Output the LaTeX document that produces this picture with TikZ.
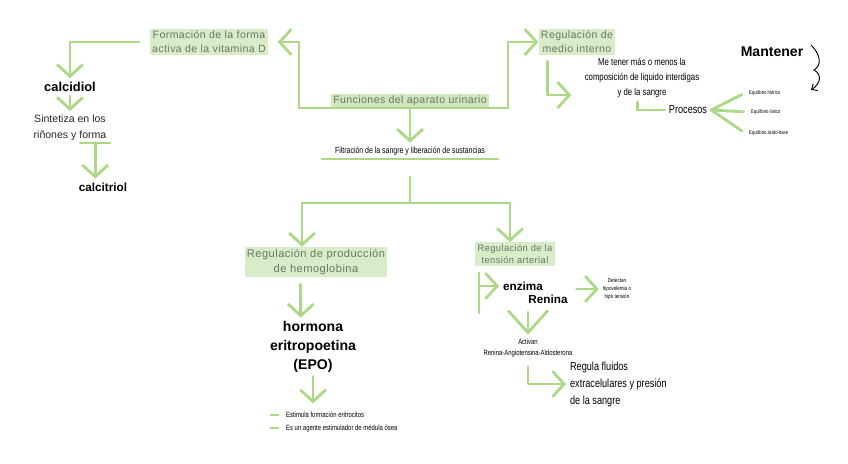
\documentclass[tikz,border=0pt]{standalone}
\usepackage{fontspec}
\setmainfont{Liberation Sans}
\newfontfamily\narrowfont{Liberation Sans}[FakeStretch=0.78]
\newfontfamily\headfont{Liberation Sans}[LetterSpace=4]
\usetikzlibrary{arrows.meta}
\definecolor{leaf}{RGB}{172,216,136}
\definecolor{mark}{RGB}{216,236,200}
\definecolor{pencil}{RGB}{108,116,104}
\begin{document}
\begin{tikzpicture}[x=0.03cm,y=-0.03cm,font=\small,
  line/.style={draw=leaf,line width=2.4pt,line cap=round,line join=round},
  head/.style={fill=mark,text=pencil,align=center,inner sep=2pt,font=\headfont\fontsize{9}{12}\selectfont},
  note/.style={align=center,font=\narrowfont\fontsize{8.5}{13}\selectfont},
  ink/.style={align=center,font=\bfseries\fontsize{12}{16}\selectfont},
  tiny/.style={align=left,font=\narrowfont\fontsize{4.6}{6}\selectfont},
  >={Straight Barb[length=10pt,width=22pt]}]
\useasboundingbox (0,0) rectangle (848,463);
\node[head,fill=mark!80!leaf] (fun) at (410,101) {Funciones del aparato urinario};
\node[note,font=\narrowfont\fontsize{7.6}{9}\selectfont] (fil) at (410,151) {Filtración de la sangre y liberación de sustancias};
\draw[line,line width=1.5pt,shorten <=-8pt,shorten >=-8pt] (fil.south west) -- (fil.south east);
\draw[line,->] (fun.south) -- (fil.north);
\coordinate (barL) at (299,108);
\coordinate (barR) at (508,108);
\draw[line] (barL) -- (barR);
\node[head] (vitD) at (209,42) {Formación de la forma\\activa de la vitamina D};
\node[head] (medio) at (577,42) {Regulación de\\medio interno};
\draw[line,->,shorten >=8pt] (barL) |- (vitD.east);
\draw[line,->] (barR) |- (medio.west);
\node[ink,font=\bfseries\fontsize{11}{13}\selectfont] (calcid) at (70,87) {calcidiol};
\node[align=center,text=black!85,font=\fontsize{9}{13.5}\selectfont] (sint) at (70,128) {Sintetiza en los\\riñones y forma};
\node[ink,font=\bfseries\fontsize{10}{12}\selectfont] (calcit) at (103,187) {calcitriol};
\draw[line,->,shorten <=9pt] (vitD.west) -| (calcid.north);
\draw[line,->] (calcid.south) -- (sint.north);
\draw[line,line width=1.5pt] ([xshift=-26pt,yshift=2pt]sint.south east) -- ([yshift=2pt]sint.south east);
\draw[line,->] ([xshift=-13pt,yshift=2pt]sint.south east) -- ([xshift=-13pt]sint.south east |- calcit.north);
\node[note] (mt) at (642,78) {Me tener más o menos la\\composición de liquido interdigas\\y de la sangre};
\draw[line,->] ([xshift=-25pt,yshift=-5pt]medio.south) |- ([xshift=-8pt,yshift=6pt]mt.south west);
\node[note,font=\narrowfont\fontsize{10}{12}\selectfont] (proc) at (688,110) {Procesos};
\draw[line] ([xshift=-4pt]mt.south) |- (proc.west);
\node[tiny,anchor=west] (eq1) at (745,93) {Equilibrio hídrico};
\node[tiny,anchor=west] (eq2) at (747,112) {Equilibrio iónico};
\node[tiny,anchor=west] (eq3) at (745,133) {Equilibrio ácido-base};
\foreach \e in {eq1,eq2,eq3}
  \draw[line,shorten >=3pt] (proc.east) -- (\e.west);
\node[ink] (mant) at (772,52) {Mantener};
\coordinate (mantTop) at (811,45);
\coordinate (mantEnd) at (811,90);
\draw[black,line width=0.8pt,-{Straight Barb[length=4pt,width=7pt]}] (mantTop) .. controls (822,56) and (821,66) .. (814,70) .. controls (823,75) and (820,84) .. (mantEnd);
\coordinate (split) at (410,203);
\coordinate (splitL) at (302,203);
\coordinate (splitR) at (510,203);
\draw[line,shorten <=15pt] (fil.south) -- (split);
\draw[line] (splitL) -- (splitR);
\node[head,font=\headfont\fontsize{9.5}{12.8}\selectfont] (hemo) at (316,262) {Regulación de producción\\de hemoglobina};
\node[head,font=\headfont\fontsize{8}{10}\selectfont] (tens) at (515,254) {Regulación de la\\tensión arterial};
\draw[line,->] (splitL) -- (splitL |- hemo.north);
\draw[line,->] (splitR) -- (splitR |- tens.north);
\node[ink] (epo) at (313,347) {hormona\\eritropoetina\\(EPO)};
\draw[line,->] ([xshift=-13pt,yshift=-6pt]hemo.south) -- ([xshift=-13pt]hemo.south |- epo.north);
\node[note,anchor=west,font=\narrowfont\fontsize{6.5}{8}\selectfont] (est) at (282,415) {Estimula formación eritrocitos};
\node[note,anchor=west,font=\narrowfont\fontsize{6.5}{8}\selectfont] (age) at (282,428) {Es un agente estimulador de médula ósea};
\draw[line,->,shorten >=4pt] (epo.south) -- (epo.south |- est.north);
\foreach \b in {est,age}
  \draw[line,line width=1.2pt] ([xshift=-10pt]\b.west) -- ([xshift=-3pt]\b.west);
\node[ink,font=\bfseries\fontsize{10}{12}\selectfont] (enz) at (523,286) {enzima};
\node[ink,font=\bfseries\fontsize{10}{12}\selectfont] (ren) at (548,299) {Renina};
\coordinate (tvTop) at (479,273);
\coordinate (tvBot) at (479,313);
\draw[line] (tvTop) -- (tvBot);
\draw[line,->] (tvTop |- enz.west) -- (enz.west);
\node[tiny,align=center,font=\narrowfont\fontsize{5}{7}\selectfont] (det) at (617,289) {Detectan\\hipovolemia o\\hipo tensión};
\draw[line,->] ([xshift=4pt]ren.east |- det.west) -- (det.west);
\node[note,font=\narrowfont\fontsize{6.5}{9.4}\selectfont] (act) at (528,348) {Activan\\Renina-Angiotensina-Aldosterona};
\draw[line,-{Straight Barb[length=19pt,width=34pt]},shorten <=4pt] (ren.south -| act.north) -- (act.north);
\node[note,anchor=west,align=left,font=\narrowfont\fontsize{10}{14.5}\selectfont] (reg) at (566,384) {Regula fluidos\\extracelulares y presión\\de la sangre};
\draw[line,->] ([yshift=-5pt]act.south) |- (reg.west);
\end{tikzpicture}
\end{document}
